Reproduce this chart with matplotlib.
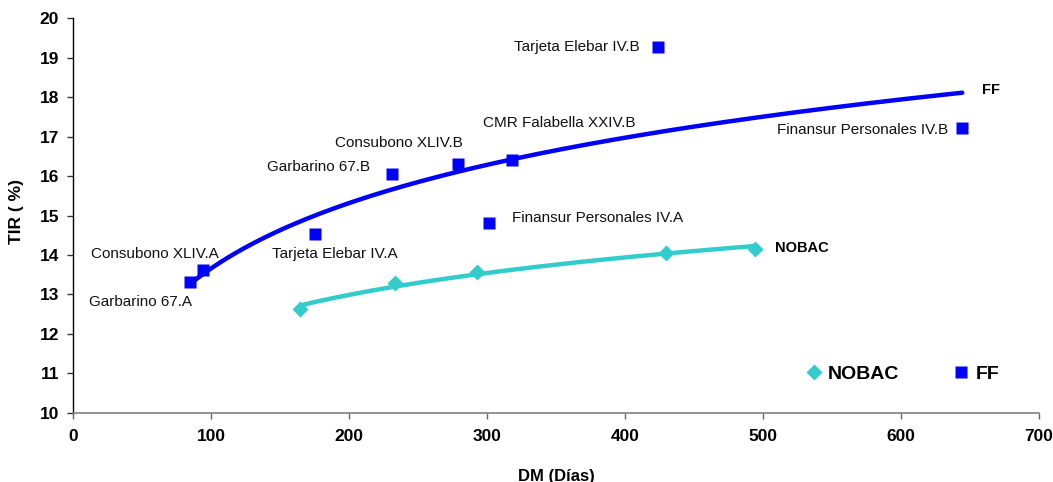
import numpy as np
import matplotlib
matplotlib.use("Agg")
import matplotlib.pyplot as plt

plt.rcParams['font.family'] = ['Liberation Sans', 'DejaVu Sans']

# ---- data ----
ff_names = ["Garbarino 67.A", "Consubono XLIV.A", "Tarjeta Elebar IV.A",
            "Garbarino 67.B", "Consubono XLIV.B", "CMR Falabella XXIV.B",
            "Finansur Personales IV.A", "Tarjeta Elebar IV.B",
            "Finansur Personales IV.B"]
ff_dm = [84.8, 94.4, 175.4, 230.9, 279.2, 318.3, 301.4, 424.1, 644.4]
ff_tir = [13.32, 13.62, 14.52, 16.04, 16.30, 16.41, 14.82, 19.26, 17.21]

nobac_dm = [164.5, 233.3, 293.0, 429.5, 494.2]
nobac_tir = [12.63, 13.28, 13.58, 14.04, 14.16]

x_ticks = [0, 100, 200, 300, 400, 500, 600, 700]
y_ticks = [10, 11, 12, 13, 14, 15, 16, 17, 18, 19, 20]

# label offsets (pixels) and alignment for FF data labels
label_offsets = [(2, -20, 'right'), (15, 16, 'right'), (-43, -20, 'left'),
                 (-22, 7, 'right'), (4, 21, 'right'), (-29, 37, 'left'),
                 (23, 5, 'left'), (-19, 0, 'right'), (-14, -2, 'right')]

FF_COLOR = '#0000FF'
NOBAC_COLOR = '#33CCCC'

fig = plt.figure(figsize=(10.53, 4.82), dpi=100)
ax = fig.add_axes([73/1053, 1-412.7/482, (1039-73)/1053, (412.7-18.3)/482])


def log_trend(x, y):
    x = np.asarray(x, float)
    y = np.asarray(y, float)
    b, a = np.polyfit(np.log(x), y, 1)
    xs = np.linspace(x.min(), x.max(), 300)
    return xs, a + b*np.log(xs)


xs, ys = log_trend(ff_dm, ff_tir)
ax.plot(xs, ys, color=FF_COLOR, lw=3.2, solid_capstyle='round', zorder=2)
xn, yn = log_trend(nobac_dm, nobac_tir)
ax.plot(xn, yn, color=NOBAC_COLOR, lw=3.2, solid_capstyle='round', zorder=2)

ax.plot(nobac_dm, nobac_tir, linestyle='none', marker='D', ms=8.5,
        color=NOBAC_COLOR, mec='none', zorder=3, label='NOBAC')
ax.plot(ff_dm, ff_tir, linestyle='none', marker='s', ms=8,
        color=FF_COLOR, mec='none', zorder=3, label='FF')

for name, x, y, (dx, dy, ha) in zip(ff_names, ff_dm, ff_tir, label_offsets):
    ax.annotate(name, (x, y), xytext=(dx, dy), textcoords='offset pixels',
                ha=ha, va='center', fontsize=11, color='#111111')

ax.annotate('FF', (xs[-1], ys[-1]), xytext=(20, 3), textcoords='offset pixels',
            ha='left', va='center', fontsize=10.5, fontweight='bold')
ax.annotate('NOBAC', (xn[-1], yn[-1]), xytext=(20, -2), textcoords='offset pixels',
            ha='left', va='center', fontsize=10.5, fontweight='bold')

ax.set_xlim(0, 700)
ax.set_ylim(10, 20)
ax.set_xticks(x_ticks)
ax.set_yticks(y_ticks)
ax.tick_params(axis='both', direction='out', length=4.5, width=1,
               labelsize=12.5, colors='#666666', labelcolor='black')
ax.tick_params(axis='x', pad=7)
ax.tick_params(axis='y', pad=5.5, colors='#333333', labelcolor='black')
for lab in ax.get_xticklabels() + ax.get_yticklabels():
    lab.set_fontweight('bold')

for s in ['top', 'right']:
    ax.spines[s].set_visible(False)
ax.spines['bottom'].set_color('#808080')
ax.spines['left'].set_color('#000000')
ax.spines['bottom'].set_linewidth(1.2)
ax.spines['left'].set_linewidth(1.0)

fig.text(556/1053, 1.5/482, 'DM (Días)', ha='center', va='baseline',
         fontsize=12, fontweight='bold')
fig.text(16/1053, 1-212/482, 'TIR ( %)', ha='center', va='center',
         rotation=90, fontsize=12.5, fontweight='bold')

ax.legend(loc='center left', bbox_to_anchor=((808-73)/966, 38.7/394.4),
          ncol=2, frameon=False, prop={'weight': 'bold', 'size': 14},
          handlelength=0.6, handletextpad=0.42, columnspacing=2.9,
          borderpad=0, borderaxespad=0)

fig.savefig('out.png', dpi=100)
